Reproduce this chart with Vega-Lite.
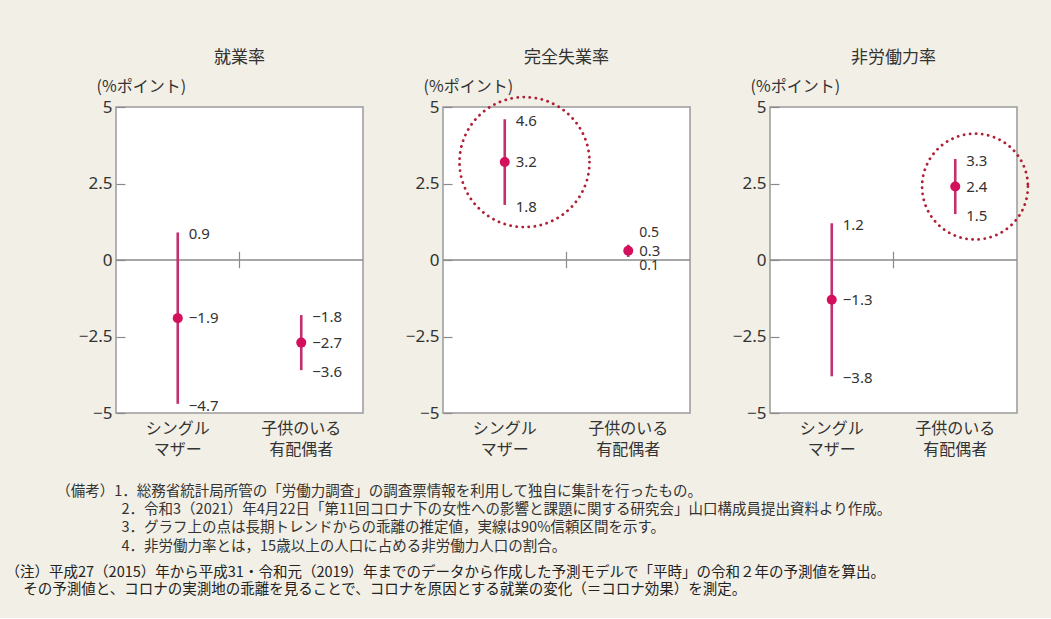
{
  "$schema": "https://vega.github.io/schema/vega-lite/v6.json",
  "background": "#f2efe6",
  "padding": {"left": 5, "top": 49, "right": 24, "bottom": 21},
  "data": {"values": [
    {"panel": "就業率", "group": "シングルマザー", "est": -1.9, "lo": -4.7, "hi": 0.9},
    {"panel": "就業率", "group": "子供のいる有配偶者", "est": -2.7, "lo": -3.6, "hi": -1.8},
    {"panel": "完全失業率", "group": "シングルマザー", "est": 3.2, "lo": 1.8, "hi": 4.6},
    {"panel": "完全失業率", "group": "子供のいる有配偶者", "est": 0.3, "lo": 0.1, "hi": 0.5},
    {"panel": "非労働力率", "group": "シングルマザー", "est": -1.3, "lo": -3.8, "hi": 1.2},
    {"panel": "非労働力率", "group": "子供のいる有配偶者", "est": 2.4, "lo": 1.5, "hi": 3.3}
  ]},
  "title": {
    "text": [
      "\u200b　　　　（備考）1．総務省統計局所管の「労働力調査」の調査票情報を利用して独自に集計を行ったもの。",
      "\u200b　　　　　　　　2．令和3（2021）年4月22日「第11回コロナ下の女性への影響と課題に関する研究会」山口構成員提出資料より作成。",
      "\u200b　　　　　　　　3．グラフ上の点は長期トレンドからの乖離の推定値，実線は90%信頼区間を示す。",
      "\u200b　　　　　　　　4．非労働力率とは，15歳以上の人口に占める非労働力人口の割合。"
    ],
    "subtitle": [
      "（注）平成27（2015）年から平成31・令和元（2019）年までのデータから作成した予測モデルで「平時」の令和２年の予測値を算出。",
      "\u200b　 その予測値と、コロナの実測地の乖離を見ることで、コロナを原因とする就業の変化（＝コロナ効果）を測定。"
    ],
    "orient": "bottom",
    "anchor": "start",
    "frame": "bounds",
    "dx": -72,
    "offset": 27,
    "font": "Noto Sans CJK JP",
    "fontSize": 14.5,
    "fontWeight": "normal",
    "color": "#333333",
    "lineHeight": 18.3,
    "subtitleFont": "Noto Sans CJK JP",
    "subtitleFontSize": 14.5,
    "subtitleColor": "#222222",
    "subtitleLineHeight": 17.2,
    "subtitlePadding": 12
  },
  "facet": {
    "column": {
      "field": "panel",
      "type": "nominal",
      "sort": ["就業率", "完全失業率", "非労働力率"],
      "title": null,
      "header": {"labelFontSize": 17, "labelColor": "#333333", "labelFont": "Noto Sans CJK JP", "labelPadding": 40}
    }
  },
  "spacing": 80,
  "bounds": "flush",
  "resolve": {"axis": {"x": "independent", "y": "independent"}},
  "spec": {
    "width": 247,
    "height": 306,
    "layer": [
      {
        "mark": {"type": "rule", "color": "#8a8a8a", "strokeWidth": 1.2},
        "encoding": {
          "y": {"datum": 0, "type": "quantitative", "scale": {"domain": [-5, 5], "nice": false, "zero": false}, "axis": {"title": "(%ポイント)", "values": [-5, -2.5, 0, 2.5, 5], "format": ".2~g"}}
        }
      },
      {
        "transform": [{"filter": "datum.group === '子供のいる有配偶者'"}],
        "mark": {"type": "rule", "color": "#8a8a8a", "strokeWidth": 1.2},
        "encoding": {
          "x": {"field": "group", "type": "nominal", "sort": ["シングルマザー", "子供のいる有配偶者"], "bandPosition": 0, "scale": {"type": "band", "paddingInner": 0, "paddingOuter": 0}, "axis": {"title": null, "labelExpr": "datum.value == 'シングルマザー' ? ['シングル', 'マザー'] : ['子供のいる', '有配偶者']"}},
          "y": {"datum": -0.27, "type": "quantitative", "axis": {"title": "(%ポイント)", "values": [-5, -2.5, 0, 2.5, 5], "format": ".2~g"}},
          "y2": {"datum": 0.27}
        }
      },
      {
        "mark": {"type": "rule", "color": "#c2306e", "strokeWidth": 2.6},
        "encoding": {
          "x": {"field": "group", "type": "nominal", "sort": ["シングルマザー", "子供のいる有配偶者"], "axis": {"title": null, "labelExpr": "datum.value == 'シングルマザー' ? ['シングル', 'マザー'] : ['子供のいる', '有配偶者']"}},
          "y": {"field": "lo", "type": "quantitative", "axis": {"title": "(%ポイント)", "values": [-5, -2.5, 0, 2.5, 5], "format": ".2~g"}},
          "y2": {"field": "hi"}
        }
      },
      {
        "mark": {"type": "point", "filled": true, "size": 100, "color": "#d4105c", "opacity": 1},
        "encoding": {
          "x": {"field": "group", "type": "nominal", "sort": ["シングルマザー", "子供のいる有配偶者"], "axis": {"title": null, "labelExpr": "datum.value == 'シングルマザー' ? ['シングル', 'マザー'] : ['子供のいる', '有配偶者']"}},
          "y": {"field": "est", "type": "quantitative", "axis": {"title": "(%ポイント)", "values": [-5, -2.5, 0, 2.5, 5], "format": ".2~g"}}
        }
      },
      {
        "mark": {"type": "text", "align": "left", "baseline": "middle", "dx": 11, "fontSize": 15, "font": "Noto Sans", "color": "#333333"},
        "encoding": {
          "x": {"field": "group", "type": "nominal", "sort": ["シングルマザー", "子供のいる有配偶者"], "axis": {"title": null, "labelExpr": "datum.value == 'シングルマザー' ? ['シングル', 'マザー'] : ['子供のいる', '有配偶者']"}},
          "y": {"field": "est", "type": "quantitative", "axis": {"title": "(%ポイント)", "values": [-5, -2.5, 0, 2.5, 5], "format": ".2~g"}},
          "text": {"field": "est", "type": "quantitative", "format": ".1f"}
        }
      },
      {
        "transform": [{"filter": "datum.hi - datum.lo >= 1"}],
        "mark": {"type": "text", "align": "left", "baseline": "middle", "dx": 11, "dy": 2, "fontSize": 15, "font": "Noto Sans", "color": "#333333"},
        "encoding": {
          "x": {"field": "group", "type": "nominal", "sort": ["シングルマザー", "子供のいる有配偶者"], "axis": {"title": null, "labelExpr": "datum.value == 'シングルマザー' ? ['シングル', 'マザー'] : ['子供のいる', '有配偶者']"}},
          "y": {"field": "hi", "type": "quantitative", "axis": {"title": "(%ポイント)", "values": [-5, -2.5, 0, 2.5, 5], "format": ".2~g"}},
          "text": {"field": "hi", "type": "quantitative", "format": ".1f"}
        }
      },
      {
        "transform": [{"filter": "datum.hi - datum.lo >= 1"}],
        "mark": {"type": "text", "align": "left", "baseline": "middle", "dx": 11, "dy": 2, "fontSize": 15, "font": "Noto Sans", "color": "#333333"},
        "encoding": {
          "x": {"field": "group", "type": "nominal", "sort": ["シングルマザー", "子供のいる有配偶者"], "axis": {"title": null, "labelExpr": "datum.value == 'シングルマザー' ? ['シングル', 'マザー'] : ['子供のいる', '有配偶者']"}},
          "y": {"field": "lo", "type": "quantitative", "axis": {"title": "(%ポイント)", "values": [-5, -2.5, 0, 2.5, 5], "format": ".2~g"}},
          "text": {"field": "lo", "type": "quantitative", "format": ".1f"}
        }
      },
      {
        "transform": [{"filter": "datum.hi - datum.lo < 1"}],
        "mark": {"type": "text", "align": "left", "baseline": "middle", "dx": 11, "dy": -12, "fontSize": 14, "font": "Noto Sans", "color": "#333333"},
        "encoding": {
          "x": {"field": "group", "type": "nominal", "sort": ["シングルマザー", "子供のいる有配偶者"], "axis": {"title": null, "labelExpr": "datum.value == 'シングルマザー' ? ['シングル', 'マザー'] : ['子供のいる', '有配偶者']"}},
          "y": {"field": "hi", "type": "quantitative", "axis": {"title": "(%ポイント)", "values": [-5, -2.5, 0, 2.5, 5], "format": ".2~g"}},
          "text": {"field": "hi", "type": "quantitative", "format": ".1f"}
        }
      },
      {
        "transform": [{"filter": "datum.hi - datum.lo < 1"}],
        "mark": {"type": "text", "align": "left", "baseline": "middle", "dx": 11, "dy": 9, "fontSize": 14, "font": "Noto Sans", "color": "#333333"},
        "encoding": {
          "x": {"field": "group", "type": "nominal", "sort": ["シングルマザー", "子供のいる有配偶者"], "axis": {"title": null, "labelExpr": "datum.value == 'シングルマザー' ? ['シングル', 'マザー'] : ['子供のいる', '有配偶者']"}},
          "y": {"field": "lo", "type": "quantitative", "axis": {"title": "(%ポイント)", "values": [-5, -2.5, 0, 2.5, 5], "format": ".2~g"}},
          "text": {"field": "lo", "type": "quantitative", "format": ".1f"}
        }
      },
      {
        "transform": [{"filter": "datum.panel === '完全失業率' && datum.group === 'シングルマザー'"}],
        "mark": {"type": "point", "shape": "circle", "filled": false, "color": "#b02035", "stroke": "#b02035", "strokeWidth": 2.8, "strokeDash": [0.1, 6], "strokeCap": "round", "size": 16900, "opacity": 1},
        "encoding": {
          "x": {"field": "group", "type": "nominal", "sort": ["シングルマザー", "子供のいる有配偶者"], "bandPosition": 0.66, "axis": {"title": null, "labelExpr": "datum.value == 'シングルマザー' ? ['シングル', 'マザー'] : ['子供のいる', '有配偶者']"}},
          "y": {"field": "est", "type": "quantitative", "axis": {"title": "(%ポイント)", "values": [-5, -2.5, 0, 2.5, 5], "format": ".2~g"}}
        }
      },
      {
        "transform": [{"filter": "datum.panel === '非労働力率' && datum.group === '子供のいる有配偶者'"}],
        "mark": {"type": "point", "shape": "circle", "filled": false, "color": "#b02035", "stroke": "#b02035", "strokeWidth": 2.8, "strokeDash": [0.1, 6], "strokeCap": "round", "size": 11200, "opacity": 1},
        "encoding": {
          "x": {"field": "group", "type": "nominal", "sort": ["シングルマザー", "子供のいる有配偶者"], "bandPosition": 0.66, "axis": {"title": null, "labelExpr": "datum.value == 'シングルマザー' ? ['シングル', 'マザー'] : ['子供のいる', '有配偶者']"}},
          "y": {"field": "est", "type": "quantitative", "axis": {"title": "(%ポイント)", "values": [-5, -2.5, 0, 2.5, 5], "format": ".2~g"}}
        }
      }
    ]
  },
  "config": {
    "font": "Noto Sans CJK JP",
    "view": {"stroke": "#9a9a9a", "strokeWidth": 1.5, "fill": "#ffffff"},
    "axisY": {
      "grid": false, "domain": false, "tickColor": "#8a8a8a", "tickSize": -9, "tickWidth": 1.2,
      "labelFontSize": 17, "labelColor": "#333333", "labelFont": "Noto Sans", "labelPadding": 13,
      "labelFlush": false, "labelOverlap": false,
      "titleFontSize": 16, "titleColor": "#333333", "titleFontWeight": "normal", "titleFont": "Noto Sans CJK JP",
      "titleAngle": 0, "titleAlign": "left", "titleBaseline": "middle", "titleX": -20, "titleY": -21
    },
    "axisX": {
      "grid": false, "domain": false, "ticks": false, "labelAngle": 0,
      "labelFontSize": 16, "labelColor": "#333333", "labelFont": "Noto Sans CJK JP",
      "labelPadding": 7, "labelLineHeight": 21
    }
  }
}
